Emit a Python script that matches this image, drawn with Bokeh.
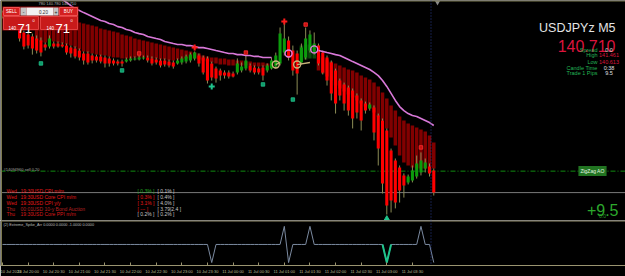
import numpy as np
from bokeh.plotting import figure
from bokeh.models import Range1d, Span, Label, FixedTicker
from bokeh.layouts import column
from bokeh.embed import file_html
from bokeh.resources import INLINE

# ---------------- data ----------------
symbol = "USDJPYz M5"
bid_price = 140.710
order_price = 140.805
order_text = "#14094960 sell 0.20"
ohlc_header = "780 140.780 140.710"

open_ = [141.507, 141.490, 141.472, 141.459, 141.441, 141.419, 141.410, 141.401, 141.392, 141.383,
         141.366, 141.357, 141.370, 141.370, 141.366, 141.361, 141.352, 141.348, 141.339, 141.326,
         141.326, 141.317, 141.313, 141.313, 141.308, 141.304, 141.295, 141.290, 141.290, 141.290,
         141.295, 141.299, 141.299, 141.304, 141.308, 141.304, 141.299, 141.295, 141.295, 141.290,
         141.286, 141.282, 141.286, 141.290, 141.295, 141.304, 141.317, 141.308, 141.304, 141.282,
         141.259, 141.251, 141.242, 141.242, 141.237, 141.242, 141.251, 141.259, 141.273, 141.264,
         141.259, 141.264, 141.251, 141.259, 141.268, 141.282, 141.330, 141.383, 141.339, 141.326,
         141.286, 141.308, 141.339, 141.330, 141.361, 141.330, 141.308, 141.286, 141.251, 141.206,
         141.189, 141.175, 141.162, 141.140, 141.118, 141.104, 141.082, 141.087, 141.051, 141.029,
         140.985, 140.896, 140.852, 140.821, 140.786, 140.755, 140.764, 140.781, 140.799, 140.817,
         140.826, 140.808]
high_ = [141.516, 141.499, 141.481, 141.468, 141.450, 141.428, 141.423, 141.414, 141.406, 141.397,
         141.375, 141.406, 141.379, 141.379, 141.375, 141.370, 141.361, 141.357, 141.348, 141.335,
         141.335, 141.326, 141.321, 141.321, 141.317, 141.313, 141.304, 141.299, 141.299, 141.308,
         141.313, 141.313, 141.317, 141.317, 141.317, 141.313, 141.308, 141.304, 141.304, 141.299,
         141.295, 141.304, 141.313, 141.321, 141.330, 141.335, 141.326, 141.317, 141.313, 141.290,
         141.268, 141.259, 141.251, 141.251, 141.246, 141.304, 141.286, 141.317, 141.282, 141.273,
         141.268, 141.273, 141.282, 141.308, 141.330, 141.441, 141.461, 141.401, 141.361, 141.339,
         141.370, 141.441, 141.428, 141.419, 141.370, 141.339, 141.317, 141.295, 141.259, 141.215,
         141.197, 141.184, 141.171, 141.149, 141.127, 141.113, 141.109, 141.096, 141.060, 141.038,
         140.994, 140.905, 140.861, 140.830, 140.795, 140.790, 140.830, 140.874, 140.888, 140.861,
         140.839, 140.817]
low_ = [141.481, 141.463, 141.450, 141.437, 141.379, 141.344, 141.348, 141.321, 141.326, 141.313,
        141.339, 141.348, 141.348, 141.352, 141.352, 141.321, 141.308, 141.304, 141.295, 141.277,
        141.277, 141.282, 141.286, 141.282, 141.264, 141.268, 141.273, 141.273, 141.268, 141.286,
        141.290, 141.295, 141.295, 141.299, 141.286, 141.273, 141.277, 141.264, 141.268, 141.264,
        141.259, 141.277, 141.277, 141.282, 141.286, 141.295, 141.268, 141.233, 141.193, 141.206,
        141.197, 141.206, 141.215, 141.215, 141.220, 141.233, 141.242, 141.251, 141.242, 141.233,
        141.233, 141.206, 141.242, 141.255, 141.259, 141.273, 141.317, 141.295, 141.228, 141.144,
        141.277, 141.299, 141.330, 141.321, 141.273, 141.233, 141.184, 141.118, 141.060, 141.118,
        141.073, 141.051, 140.994, 141.038, 140.985, 141.060, 141.073, 140.941, 140.830, 140.706,
        140.613, 140.622, 140.640, 140.666, 140.688, 140.746, 140.755, 140.772, 140.786, 140.799,
        140.781, 140.697]
close_ = [141.490, 141.472, 141.459, 141.445, 141.392, 141.357, 141.361, 141.348, 141.339, 141.330,
          141.352, 141.392, 141.357, 141.357, 141.357, 141.330, 141.326, 141.313, 141.308, 141.295,
          141.286, 141.295, 141.295, 141.290, 141.282, 141.282, 141.282, 141.282, 141.282, 141.299,
          141.304, 141.304, 141.308, 141.308, 141.295, 141.282, 141.286, 141.273, 141.277, 141.273,
          141.268, 141.295, 141.304, 141.313, 141.321, 141.330, 141.282, 141.242, 141.206, 141.220,
          141.215, 141.228, 141.228, 141.224, 141.224, 141.282, 141.268, 141.295, 141.251, 141.242,
          141.242, 141.228, 141.273, 141.295, 141.317, 141.414, 141.392, 141.308, 141.251, 141.237,
          141.352, 141.392, 141.410, 141.370, 141.282, 141.242, 141.206, 141.149, 141.104, 141.140,
          141.104, 141.073, 141.038, 141.065, 141.029, 141.073, 141.100, 140.976, 140.905, 140.750,
          140.653, 140.675, 140.666, 140.719, 140.741, 140.781, 140.808, 140.839, 140.852, 140.843,
          140.795, 140.710]

# smoothed band (histogram from band_top to band_bot), None = not drawn
band_top = [None] * 8 + [
    141.490, 141.490, 141.485, 141.485, 141.481, 141.481, 141.476, 141.476, 141.472, 141.468,
    141.463, 141.459, 141.454, 141.450, 141.445, 141.437, 141.432, 141.428, 141.423, 141.419,
    141.410, 141.406, 141.401, 141.392, 141.388, 141.383, 141.379, 141.375, 141.370, 141.366,
    141.361, 141.357, 141.352, 141.348, 141.344, 141.339, 141.335, 141.330, 141.326, 141.317,
    141.313, 141.308, 141.308, 141.304, 141.304, 141.299, 141.299, 141.295, 141.295, 141.290,
    141.290, 141.286, 141.286, 141.286, 141.282, 141.282] + [None] * 6 + [
    141.361, 141.366, 141.366, 141.361] + [
    141.317, 141.308, 141.299, 141.290, 141.282, 141.273, 141.264, 141.255, 141.251, 141.242,
    141.228, 141.220, 141.211, 141.197, 141.180, 141.153, 141.127, 141.096, 141.073, 141.047,
    141.029, 141.016, 141.007, 140.998, 140.989, 140.980, 140.963, 140.932]
band_bot = [None] * 8 + [
    141.383, 141.379, 141.375, 141.383, 141.379, 141.375, 141.370, 141.366, 141.361, 141.352,
    141.344, 141.335, 141.330, 141.326, 141.321, 141.317, 141.317, 141.313, 141.308, 141.308,
    141.304, 141.304, 141.304, 141.308, 141.308, 141.308, 141.308, 141.304, 141.304, 141.299,
    141.299, 141.295, 141.295, 141.299, 141.299, 141.304, 141.304, 141.304, 141.299, 141.295,
    141.290, 141.286, 141.282, 141.277, 141.277, 141.273, 141.273, 141.273, 141.273, 141.273,
    141.273, 141.268, 141.268, 141.268, 141.268, 141.268] + [None] * 6 + [
    141.295, 141.299, 141.304, 141.304] + [
    141.251, 141.237, 141.224, 141.206, 141.184, 141.171, 141.158, 141.144, 141.131, 141.118,
    141.104, 141.091, 141.082, 141.065, 141.047, 141.029, 140.994, 140.954, 140.919, 140.874,
    140.843, 140.830, 140.821, 140.817, 140.817, 140.817, 140.817, 140.817]
band_bull_bars = [70, 71, 72, 73]

# trend line (orchid)
trend = [None] * 10 + [
    141.623, 141.605, 141.592, 141.578, 141.565, 141.552, 141.538, 141.525, 141.516, 141.507,
    141.499, 141.490, 141.481, 141.472, 141.468, 141.459, 141.454, 141.445, 141.441, 141.432,
    141.428, 141.419, 141.414, 141.410, 141.401, 141.397, 141.392, 141.388, 141.379, 141.375,
    141.370, 141.366, 141.366, 141.361, 141.361, 141.357, 141.352, 141.352, 141.348, 141.344,
    141.339, 141.335, 141.330, 141.326, 141.326, 141.321, 141.321, 141.317, 141.317, 141.313,
    141.313, 141.308, 141.308, 141.308] + [None] * 10 + [
    141.339, 141.335, 141.330, 141.326, 141.321, 141.317, 141.308, 141.299, 141.290, 141.282,
    141.273, 141.264, 141.255, 141.242, 141.228, 141.206, 141.180, 141.149, 141.118, 141.091,
    141.073, 141.060, 141.051, 141.047, 141.038, 141.029, 141.020, 141.007]

# signal markers
red_cross_bars = [45, 66]
red_cross_price = [141.352, 141.468]
red_dot_bars = [32, 57, 71, 98]
red_dot_price = [141.326, 141.330, 141.454, 140.910]
teal_sq_bars = [9, 28, 61, 68]
teal_sq_price = [141.282, 141.251, 141.189, 141.122]
teal_cross_bars = [49]
teal_cross_price = [141.180]
teal_arrow_bars = [90]
teal_arrow_price = [140.595]
zz_circle_bars = [64, 69]
zz_circle_price = [141.277, 141.277]
zz_end_bars = [65, 72]
zz_end_price = [141.286, 141.286]
pink_circle_bars = [67, 73]
pink_circle_price = [141.326, 141.344]

# sub-window indicator (0 elsewhere)
spike_bars = [49, 66, 67, 72, 90, 98, 101]
spike_vals = [-1, 1, -1, 1, -1, 1, -1]
teal_spike_bar = 90
osc_title = "(2) Extreme_Spike_Arr 0.0000 0.0000 -1.0000 0.0000"

# time axis
tick_bars = [0, 6, 12, 18, 24, 30, 36, 42, 48, 54, 60, 66, 72, 78, 84, 90, 96]
tick_labels = ["10 Jul 2023", "10 Jul 20:00", "10 Jul 20:30", "10 Jul 21:00", "10 Jul 21:30",
               "10 Jul 22:00", "10 Jul 22:30", "10 Jul 23:00", "10 Jul 23:30", "11 Jul 00:00",
               "11 Jul 00:30", "11 Jul 01:00", "11 Jul 01:30", "11 Jul 02:00", "11 Jul 02:30",
               "11 Jul 03:00", "11 Jul 03:30"]
cursor_text = "2023.07.11 03:55"

# info panel
info_labels = ["Spread", "High", "Low", "Candle Time", "Trade 1 Pips"]
info_values = ["0.0", "141.461", "140.613", "0:38", "9.5"]
profit_text = "+9.5"
profit_sub = "0.0"
zigzag_text = "ZigZag AO"

# economic calendar
cal_day = ["Wed", "Wed", "Wed", "Thu", "Thu"]
cal_time = ["19:30", "19:30", "19:30", "00:01", "19:30"]
cal_cur = ["USD", "USD", "USD", "USD", "USD"]
cal_event = ["CPI m/m", "Core CPI m/m", "CPI y/y", "10-y Bond Auction", "Core PPI m/m"]
cal_forecast = ["[ 0.3% ]", "[ 0.3% ]", "[ 3.1% ]", "[ --- ]", "[ 0.2% ]"]
cal_previous = ["[ 0.1% ]", "[ 0.4% ]", "[ 4.0% ]", "[ 3.79|2.4 ]", "[ 0.2% ]"]

# trade panel
lot_text = "0.20"
price_big = "71"
price_small = "140"
price_sup = "0"

# ---------------- geometry helpers ----------------
SX = 4.27
XS = -2.0 / SX
XE = XS + 625.0 / SX
K = 0.004428
YT = 141.5606
MAIN_H = 220
YB = YT - MAIN_H * K
OSC_TOP, OSC_BOT = 1.324, -1.162
OSC_PX = 18.5


def X(px):
    return XS + px / SX


def Y(py):
    return YT - py * K


def PY(py):
    return OSC_TOP - (py - 220.0) / OSC_PX


FONT = "Liberation Sans"
OLIVE = "#7d7a4e"
AXIS_TXT = "#bdbd96"
UPC = "#0c9c0c"
DNC = "#ff0000"
WICK = "#8c8c55"
BAND_DN = "#820000"
BAND_UP = "#0b4a0b"
PINK = "#d878d8"
TEAL = "#1fc48c"
GRAYT = "#c8c8c8"

p = figure(width=625, height=MAIN_H, x_range=Range1d(XS, XE), y_range=Range1d(YB, YT),
           output_backend="svg", toolbar_location=None, x_axis_location=None,
           y_axis_location=None, min_border=0, background_fill_color="#000000",
           border_fill_color="#000000", outline_line_color=None)
p.xgrid.grid_line_color = None
p.ygrid.grid_line_color = None
p.grid.visible = False

# horizontal lines
p.add_layout(Span(location=order_price, dimension="width", line_color="#118a11",
                  line_dash="5 2 1 2", line_width=1, level="underlay"))
p.add_layout(Span(location=bid_price, dimension="width", line_color="#7a7a7a",
                  line_width=1, level="underlay"))

n = len(open_)
bars = list(range(n))

# band
bx, bt, bb, bc = [], [], [], []
for i in range(n):
    if band_top[i] is not None:
        bx.append(i)
        bt.append(band_top[i])
        bb.append(band_bot[i])
        bc.append(BAND_UP if i in band_bull_bars else BAND_DN)
p.vbar(x=bx, width=0.82, top=bt, bottom=bb, fill_color=bc, line_color=None)

# candles
p.segment(x0=bars, y0=low_, x1=bars, y1=high_, line_color=WICK, line_width=1)
btop = [max(o, c) for o, c in zip(open_, close_)]
bbot = [min(o, c) for o, c in zip(open_, close_)]
bcol = [UPC if c >= o else DNC for o, c in zip(open_, close_)]
p.vbar(x=bars, width=0.72, top=btop, bottom=bbot, fill_color=bcol, line_color=None)

# trend line
tr = [np.nan if v is None else v for v in trend]
p.line(x=bars, y=tr, line_color=PINK, line_width=1.6)

# markers
p.scatter(x=red_cross_bars, y=red_cross_price, marker="cross", size=6, line_color="#ff1a1a",
          line_width=2)
p.scatter(x=red_dot_bars, y=red_dot_price, marker="square", size=3.5, fill_color="#c81010",
          line_color="#ff3030", line_width=0.8)
p.scatter(x=teal_sq_bars, y=teal_sq_price, marker="square", size=3.5, fill_color="#109a6a",
          line_color=TEAL, line_width=0.8)
p.scatter(x=teal_cross_bars, y=teal_cross_price, marker="cross", size=6, line_color=TEAL,
          line_width=2)
p.scatter(x=teal_arrow_bars, y=teal_arrow_price, marker="triangle", size=5, fill_color=TEAL,
          line_color=TEAL)
p.segment(x0=zz_circle_bars, y0=zz_circle_price, x1=zz_end_bars, y1=zz_end_price,
          line_color="#c8b47a", line_width=1.3)
p.scatter(x=zz_circle_bars, y=zz_circle_price, marker="circle", size=7, fill_color=None,
          line_color="#c8b47a", line_width=1.4)
p.scatter(x=pink_circle_bars, y=pink_circle_price, marker="circle", size=7, fill_color=None,
          line_color="#e07ee0", line_width=1.4)

# borders / vertical line
p.add_layout(Span(location=Y(0.5), dimension="width", line_color=OLIVE, line_width=1))
p.add_layout(Span(location=X(1), dimension="height", line_color=OLIVE, line_width=1))
p.add_layout(Span(location=X(430.5), dimension="height", line_color="#2a3f90",
                  line_dash="1 2", line_width=1))
p.scatter(x=[X(437)], y=[Y(2)], marker="inverted_triangle", size=5, fill_color="#8a8a8a",
          line_color=None)

# trade panel (top-left)
def box(x0, x1, y0, y1, fill, line=None):
    p.quad(left=[X(x0)], right=[X(x1)], top=[Y(y0)], bottom=[Y(y1)], fill_color=fill,
           line_color=line, line_width=1)

box(2, 78, 6, 30, "#8e0c0c")
box(3, 19, 7, 15, "#d42020", "#ee5050")
box(20, 26, 7, 15, "#c4c4c4")
box(26, 53, 7, 15, "#f2f2f2")
box(53, 58, 7, 15, "#c4c4c4")
box(59, 77, 7, 15, "#d42020", "#ee5050")
box(3, 38, 16, 29, "#c81a1a", "#e24040")
box(40, 77, 16, 29, "#c81a1a", "#e24040")


def lab(px, py, text, size, color, align="left", baseline="middle", fig=None, yfun=Y, **kw):
    (fig or p).add_layout(Label(x=X(px), y=yfun(py), text=text, text_font=FONT,
                                text_font_size=size, text_color=color, text_align=align,
                                text_baseline=baseline, **kw))

lab(38, 2.5, ohlc_header, "4px", "#b0b0b0")
lab(11, 11, "SELL", "4.5px", "#ffffff", "center")
lab(23, 11, "-", "5px", "#202020", "center")
lab(43, 11, lot_text, "4.5px", "#303030", "center")
lab(55.5, 11, "+", "5px", "#202020", "center")
lab(68, 11, "BUY", "4.5px", "#ffffff", "center")
for bx0 in (0, 38):
    lab(8 + bx0, 27, price_small, "4.5px", "#ffffff", baseline="alphabetic")
    lab(17 + bx0, 28, price_big, "13px", "#ffffff", baseline="alphabetic")
    lab(32 + bx0, 20, price_sup, "4px", "#ffffff")

# order label
lab(3, 169, order_text, "4px", "#a8a8a0", baseline="alphabetic")

# economic calendar
cal_col = ["#e41818", "#e41818", "#e41818", "#b82020", "#d81818"]
fc_col = ["#22aa22", "#e41818", "#e41818", "#e41818", GRAYT]
cal_y = [190, 196, 202, 208, 213.5]
for k in range(len(cal_day)):
    lab(6, cal_y[k], cal_day[k], "5px", cal_col[k])
    lab(20, cal_y[k], cal_time[k], "5px", cal_col[k])
    lab(32, cal_y[k], cal_cur[k], "5px", cal_col[k])
    lab(44, cal_y[k], cal_event[k], "5px", cal_col[k])
    lab(137, cal_y[k], cal_forecast[k], "5px", fc_col[k])
    lab(157, cal_y[k], cal_previous[k], "5px", GRAYT)

# right info panel
lab(615, 27, symbol, "12.5px", "#e4e4e4", "right", "alphabetic")
lab(615, 45, f"{bid_price:.3f}", "16px", "#dc143c", "right", "alphabetic")
info_y = [49, 54.5, 61, 67, 72.5]
val_col = ["#e0e0e0", "#dc143c", "#dc143c", "#e0e0e0", "#e0e0e0"]
for k in range(len(info_labels)):
    lab(597, info_y[k], info_labels[k], "5.5px", "#22b455", "right")
    lab(608.5, info_y[k], info_values[k], "5.5px", val_col[k], "center")
lab(592, 170.5, zigzag_text, "5px", "#e4f4e4", "center",
    background_fill_color="#217421", padding=2)
lab(618, 209, profit_text, "16px", "#2ca82c", "right", "alphabetic")
lab(602, 215.5, profit_sub, "5px", "#2a942a", "center")

# ---------------- sub window ----------------
p2 = figure(width=625, height=56, x_range=p.x_range, y_range=Range1d(OSC_BOT, OSC_TOP),
            output_backend="svg", toolbar_location=None, y_axis_location=None,
            min_border=0, min_border_bottom=10, background_fill_color="#000000",
            border_fill_color="#000000", outline_line_color=None)
p2.xgrid.grid_line_color = None
p2.grid.visible = False
osc = [0.0] * n
for b, v in zip(spike_bars, spike_vals):
    osc[b] = v
p2.line(x=bars, y=osc, line_color="#7b8aa0", line_width=1)
p2.line(x=[teal_spike_bar - 1, teal_spike_bar, teal_spike_bar + 1],
        y=[0, osc[teal_spike_bar], 0], line_color=TEAL, line_width=2)
p2.add_layout(Span(location=PY(220.5), dimension="width", line_color="#9a9470", line_width=1))
p2.add_layout(Span(location=X(1), dimension="height", line_color=OLIVE, line_width=1))
p2.add_layout(Span(location=X(430.5), dimension="height", line_color="#2a3f90",
                   line_dash="1 2", line_width=1))
lab(3, 225, osc_title, "3.8px", "#bcbcbc", fig=p2, yfun=PY)

ax = p2.xaxis[0]
ax.ticker = FixedTicker(ticks=tick_bars)
ax.major_label_overrides = {b: t for b, t in zip(tick_bars, tick_labels)}
ax.axis_line_color = "#9a9470"
ax.major_tick_line_color = "#9a9470"
ax.major_tick_in = 3
ax.major_tick_out = 0
ax.minor_tick_line_color = None
ax.major_label_text_font = FONT
ax.major_label_text_font_size = "4px"
ax.major_label_text_color = AXIS_TXT
ax.major_label_text_align = "left"
ax.major_label_standoff = 3

p2.add_layout(Label(x=X(431), y=PY(271), text=cursor_text, text_font=FONT,
                    text_font_size="3.8px", text_color="#eef2ff", text_align="center",
                    text_baseline="middle", background_fill_color="#2f62cc", padding=2))

layout = column(p, p2, spacing=0)
open("out.html", "w").write(file_html(layout, INLINE, title="USDJPYz M5"))
